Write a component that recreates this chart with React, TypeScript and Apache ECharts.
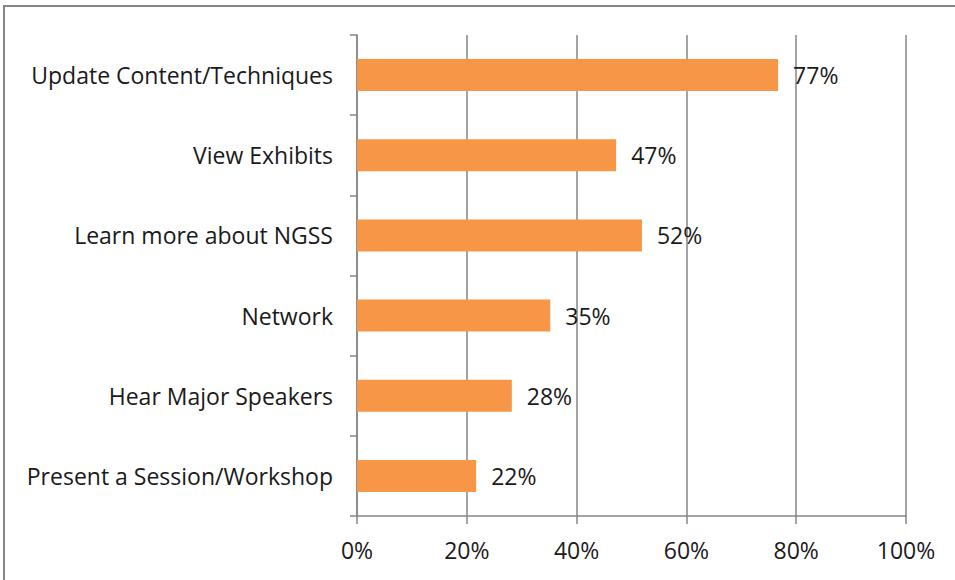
import React, { useEffect, useRef } from "react";
import * as echarts from "echarts";

const categories = [
  "Update Content/Techniques",
  "View Exhibits",
  "Learn more about NGSS",
  "Network",
  "Hear Major Speakers",
  "Present a Session/Workshop",
];
const values = [0.767, 0.472, 0.519, 0.352, 0.282, 0.217];
const xTicks = [0, 0.2, 0.4, 0.6, 0.8, 1.0];

const FONT = "'Open Sans', sans-serif";
const FS = 23;

export default function App() {
  const ref = useRef<HTMLDivElement>(null);
  useEffect(() => {
    if (!ref.current) return;
    const chart = echarts.init(ref.current, undefined, { renderer: "svg" });
    chart.setOption({
      animation: false,
      backgroundColor: "#ffffff",
      graphic: [
        {
          type: "rect",
          shape: { x: 4, y: 6, width: 1000, height: 700 },
          style: { fill: "none", stroke: "#868686", lineWidth: 2 },
          silent: true,
        },
      ],
      grid: { left: 357, right: 49, top: 35, bottom: 64, containLabel: false },
      xAxis: {
        type: "value",
        min: xTicks[0],
        max: xTicks[xTicks.length - 1],
        interval: 0.2,
        axisLine: { show: true, lineStyle: { color: "#868686", width: 1.5 } },
        axisTick: { show: true, length: 8, lineStyle: { color: "#868686", width: 1.5 } },
        splitLine: { show: true, lineStyle: { color: "#868686", width: 1.5 } },
        axisLabel: {
          margin: 22,
          fontSize: FS,
          color: "#1a1a1a",
          fontFamily: FONT,
          formatter: (v: number) => Math.round(v * 100) + "%",
        },
      },
      yAxis: {
        type: "category",
        data: categories,
        inverse: true,
        axisLine: { show: true, lineStyle: { color: "#868686", width: 1.5 } },
        axisTick: { show: true, length: 7, lineStyle: { color: "#868686", width: 1.5 } },
        axisLabel: {
          margin: 24,
          fontSize: FS,
          color: "#1a1a1a",
          fontFamily: FONT,
        },
      },
      series: [
        {
          type: "bar",
          data: values,
          barWidth: "40%",
          itemStyle: { color: "#F79646" },
          label: {
            show: true,
            position: "right",
            distance: 15,
            fontSize: FS,
            color: "#1a1a1a",
            fontFamily: FONT,
            formatter: (p: any) => Math.round(p.value * 100) + "%",
          },
        },
      ],
    });
    return () => chart.dispose();
  }, []);
  return (
    <div
      ref={ref}
      style={{ position: "absolute", left: 0, top: 0, width: 955, height: 580 }}
    />
  );
}
